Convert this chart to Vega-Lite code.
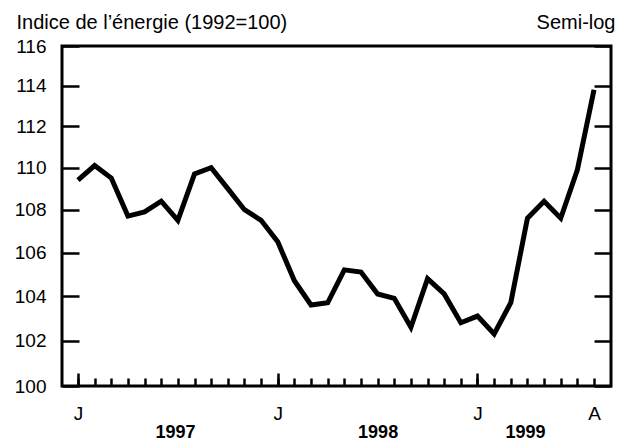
{
  "$schema": "https://vega.github.io/schema/vega-lite/v6.json",
  "width": 549,
  "height": 340,
  "autosize": {"type": "none"},
  "padding": {"left": 62, "top": 46, "right": 17, "bottom": 56},
  "background": "white",
  "config": {
    "view": {"stroke": "black", "strokeWidth": 3},
    "font": "Liberation Sans",
    "axis": {
      "domain": false,
      "grid": false,
      "tickColor": "black",
      "tickWidth": 2.5,
      "labelColor": "black",
      "labelFont": "Liberation Sans",
      "labelFontSize": 19,
      "titleFont": "Liberation Sans",
      "titleFontSize": 20,
      "titleFontWeight": "normal",
      "titleColor": "black",
      "labelOverlap": false,
      "labelFlush": false
    }
  },
  "data": {
    "values": [
      {"t": 0, "date": "1997-01", "value": 109.4},
      {"t": 1, "date": "1997-02", "value": 110.1},
      {"t": 2, "date": "1997-03", "value": 109.5},
      {"t": 3, "date": "1997-04", "value": 107.7},
      {"t": 4, "date": "1997-05", "value": 107.9},
      {"t": 5, "date": "1997-06", "value": 108.4},
      {"t": 6, "date": "1997-07", "value": 107.5},
      {"t": 7, "date": "1997-08", "value": 109.7},
      {"t": 8, "date": "1997-09", "value": 110.0},
      {"t": 9, "date": "1997-10", "value": 109.0},
      {"t": 10, "date": "1997-11", "value": 108.0},
      {"t": 11, "date": "1997-12", "value": 107.5},
      {"t": 12, "date": "1998-01", "value": 106.5},
      {"t": 13, "date": "1998-02", "value": 104.7},
      {"t": 14, "date": "1998-03", "value": 103.6},
      {"t": 15, "date": "1998-04", "value": 103.7},
      {"t": 16, "date": "1998-05", "value": 105.2},
      {"t": 17, "date": "1998-06", "value": 105.1},
      {"t": 18, "date": "1998-07", "value": 104.1},
      {"t": 19, "date": "1998-08", "value": 103.9},
      {"t": 20, "date": "1998-09", "value": 102.6},
      {"t": 21, "date": "1998-10", "value": 104.8},
      {"t": 22, "date": "1998-11", "value": 104.1},
      {"t": 23, "date": "1998-12", "value": 102.8},
      {"t": 24, "date": "1999-01", "value": 103.1},
      {"t": 25, "date": "1999-02", "value": 102.3},
      {"t": 26, "date": "1999-03", "value": 103.7},
      {"t": 27, "date": "1999-04", "value": 107.6},
      {"t": 28, "date": "1999-05", "value": 108.4},
      {"t": 29, "date": "1999-06", "value": 107.6},
      {"t": 30, "date": "1999-07", "value": 109.9},
      {"t": 31, "date": "1999-08", "value": 113.8}
    ]
  },
  "layer": [
    {
      "mark": {"type": "line", "color": "black", "strokeWidth": 5, "strokeJoin": "miter"},
      "encoding": {
        "x": {
          "field": "t", "type": "quantitative",
          "scale": {"domain": [-0.96, 32.02], "nice": false, "zero": false},
          "axis": {
            "orient": "bottom", "title": null,
            "values": [0,1,2,3,4,5,6,7,8,9,10,11,12,13,14,15,16,17,18,19,20,21,22,23,24,25,26,27,28,29,30,31],
            "tickSize": -8, "labelPadding": 26, "labelBaseline": "top",
            "labelExpr": "datum.value == 0 || datum.value == 12 || datum.value == 24 ? 'J' : (datum.value == 31 ? 'A' : '')"
          }
        },
        "y": {
          "field": "value", "type": "quantitative",
          "scale": {"type": "log", "domain": [100, 116], "nice": false, "zero": false},
          "axis": {
            "orient": "left",
            "values": [100,102,104,106,108,110,112,114,116],
            "tickSize": -17, "labelPadding": 33,
            "title": "Indice de l’énergie (1992=100)",
            "titleAngle": 0, "titleAlign": "left", "titleBaseline": "alphabetic",
            "titleX": -46, "titleY": -18
          }
        }
      }
    },
    {
      "mark": {"type": "line", "strokeOpacity": 0},
      "encoding": {
        "x": {
          "field": "t", "type": "quantitative",
          "axis": {
            "orient": "bottom", "title": null, "values": [0, 12, 24],
            "tickSize": -13, "labels": false
          }
        },
        "y": {
          "field": "value", "type": "quantitative",
          "axis": {
            "orient": "right",
            "values": [100,102,104,106,108,110,112,114,116],
            "tickSize": -17, "labels": false,
            "title": "Semi-log",
            "titleAngle": 0, "titleAlign": "right", "titleBaseline": "alphabetic",
            "titleX": 4, "titleY": -18
          }
        }
      }
    },
    {
      "mark": {"type": "line", "strokeOpacity": 0},
      "encoding": {
        "x": {
          "field": "t", "type": "quantitative",
          "axis": {
            "orient": "bottom", "title": null, "values": [5.83, 18, 26.85],
            "ticks": false, "tickSize": 0, "labelPadding": 37, "labelBaseline": "top",
            "labelFontWeight": "bold", "labelFontSize": 18,
            "labelExpr": "datum.value < 10 ? '1997' : (datum.value < 20 ? '1998' : '1999')"
          }
        },
        "y": {"field": "value", "type": "quantitative", "axis": null}
      }
    }
  ],
  "resolve": {"axis": {"x": "independent", "y": "independent"}}
}
